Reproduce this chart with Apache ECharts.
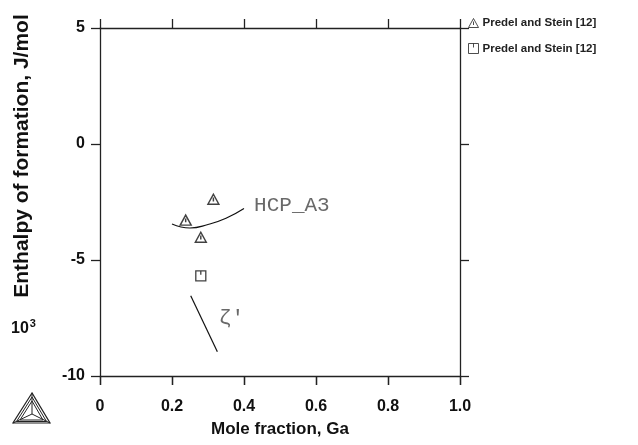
<!DOCTYPE html>
<html>
<head>
<meta charset="utf-8">
<script src="https://cdn.jsdelivr.net/npm/echarts@6/dist/echarts.min.js"></script>
<style>
    html, body { margin: 0; padding: 0; background: #fff; }
    #myChart { width: 638px; height: 445px; }
</style>
</head>
<body>
<div id="myChart"></div>
<script>
// measured points (mole fraction Ga, enthalpy in 10^3 J/mol)
const predelTri = [[0.238, -3.28], [0.315, -2.38], [0.28, -4.02]];
const predelSq = [[0.28, -5.68]];
// calculated curves
const hcpCurve = [[0.2, -3.45], [0.25, -3.62], [0.3, -3.47], [0.35, -3.2], [0.4, -2.78]];
const zetaLine = [[0.252, -6.54], [0.326, -8.95]];
const curveLabels = [
    { name: "HCP_A3", value: [0.428, -2.63] },
    { name: "ζ'", value: [0.33, -7.5] },
];
const legendNames = ["Predel and Stein [12]", "Predel and Stein [12]"];
const xTicks = [0, 0.2, 0.4, 0.6, 0.8, 1.0];
const yTicks = [-10, -5, 0, 5];

const triIcon = "path://M5,0 L10,9 L0,9 Z M5,3 L5,6.5";
const sqIcon = "path://M0,0 L10,0 L10,10 L0,10 Z M5,0 L5,4";
const lineCol = "#222";

var myChart = echarts.init(document.getElementById("myChart"));

function xLabel(v) {
    if (v === 0) return "0";
    return v.toFixed(1);
}

function frameAxis(extra) {
    return Object.assign({
        axisLine: { show: true, onZero: false, lineStyle: { color: lineCol, width: 1.3 } },
        axisTick: { show: true, inside: false, length: 9, lineStyle: { color: lineCol, width: 1.3 } },
        splitLine: { show: false },
    }, extra);
}

var option = {
    animation: false,
    textStyle: { fontFamily: "Liberation Sans" },
    grid: { left: 100, top: 28, width: 360, height: 348 },
    legend: {
        data: [
            { name: "ps1", icon: triIcon },
            { name: "ps2", icon: sqIcon },
        ],
        orient: "vertical",
        left: 466,
        top: 16,
        padding: 0,
        itemWidth: 10,
        itemHeight: 10,
        itemGap: 11,
        formatter: (n) => (n === "ps1" ? legendNames[0] : legendNames[1]),
        textStyle: { fontSize: 11.5, fontWeight: "bold", color: "#222", padding: [0, 0, 0, -1] },
        itemStyle: { color: "none", borderColor: "#222", borderWidth: 1 },
    },
    xAxis: [
        frameAxis({
            type: "value", min: 0, max: 1, interval: 0.2, position: "bottom",
            axisLabel: {
                margin: 23, fontSize: 16, fontWeight: "bold", color: "#111",
                formatter: (v) => (xTicks.some((t) => Math.abs(t - v) < 1e-6) ? xLabel(v) : ""),
            },
            name: "Mole fraction, Ga",
            nameLocation: "middle",
            nameGap: 45,
            nameTextStyle: { fontSize: 17, fontWeight: "bold", color: "#111" },
        }),
        frameAxis({
            type: "value", min: 0, max: 1, interval: 0.2, position: "top",
            axisLabel: { show: false },
        }),
        // ticks only, hanging below the bottom frame
        frameAxis({
            type: "value", min: 0, max: 1, interval: 0.2, position: "bottom",
            axisLine: { show: false, onZero: false },
            axisLabel: { show: false },
        }),
    ],
    yAxis: [
        frameAxis({
            type: "value", min: -10, max: 5, interval: 5, position: "left",
            axisLabel: {
                margin: 15, fontSize: 16, fontWeight: "bold", color: "#111",
                formatter: (v) => (yTicks.includes(v) ? String(v) : ""),
            },
        }),
        frameAxis({
            type: "value", min: -10, max: 5, interval: 5, position: "right",
            axisLabel: { show: false },
        }),
    ],
    series: [
        {
            name: "ps1", type: "scatter", data: predelTri, symbol: triIcon, symbolSize: [11, 10],
            itemStyle: { color: "none", borderColor: "#111", borderWidth: 1.4 },
        },
        {
            name: "ps2", type: "scatter", data: predelSq, symbol: sqIcon, symbolSize: [10, 10],
            itemStyle: { color: "none", borderColor: "#111", borderWidth: 1.3 },
        },
        {
            name: "hcp", type: "line", data: hcpCurve, smooth: 0.5, showSymbol: false,
            lineStyle: { color: "#111", width: 1.2 },
        },
        {
            name: "zeta", type: "line", data: zetaLine, showSymbol: false,
            lineStyle: { color: "#111", width: 1.2 },
        },
        {
            name: "labels", type: "scatter", data: curveLabels, symbolSize: 0,
            label: {
                show: true, position: "right", distance: 0,
                formatter: (p) => p.name,
                fontFamily: "Liberation Mono", fontSize: 21, color: "#444",
            },
        },
    ],
    graphic: [
        {
            type: "text",
            x: 22, y: 156, rotation: Math.PI / 2,
            style: {
                text: "Enthalpy of formation, J/mol",
                font: "bold 21px 'Liberation Sans'",
                fill: "#111", align: "center", verticalAlign: "middle",
            },
        },
        {
            type: "text", x: 11, y: 318,
            style: {
                text: "{b|10}{s|3}",
                rich: {
                    b: { font: "bold 16px 'Liberation Sans'", fill: "#111", verticalAlign: "bottom" },
                    s: { font: "bold 11px 'Liberation Sans'", fill: "#111", verticalAlign: "top", padding: [0, 0, 8, 1] },
                },
            },
        },
        {
            type: "group", x: 13, y: 393,
            children: [
                { type: "polygon", shape: { points: [[19, 0], [0, 30], [37, 30]] }, style: { fill: "none", stroke: "#222", lineWidth: 1.2 } },
                { type: "polygon", shape: { points: [[19, 4], [3.5, 28.5], [33.5, 28.5]] }, style: { fill: "none", stroke: "#222", lineWidth: 1 } },
                { type: "polygon", shape: { points: [[19, 8], [7, 27], [30, 27]] }, style: { fill: "none", stroke: "#222", lineWidth: 1 } },
                { type: "polyline", shape: { points: [[19, 0], [19, 21]] }, style: { stroke: "#222", lineWidth: 1 } },
                { type: "polyline", shape: { points: [[0, 30], [19, 21], [37, 30]] }, style: { fill: "none", stroke: "#222", lineWidth: 1 } },
            ],
        },
    ],
};

myChart.setOption(option);
window.onresize = function () {
    myChart.resize();
};
</script>
</body>
</html>
